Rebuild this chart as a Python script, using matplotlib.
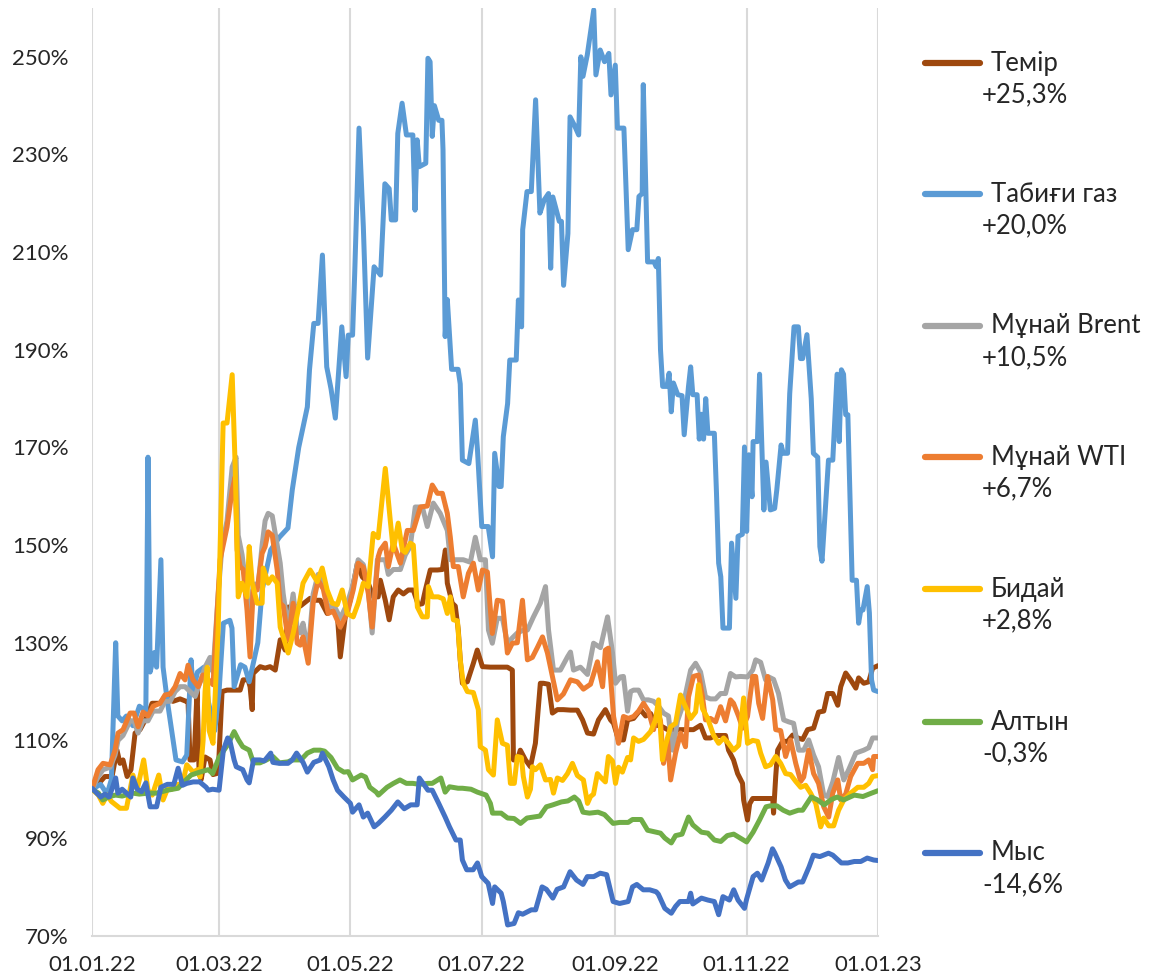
import datetime as dt
import matplotlib
matplotlib.use("Agg")
import matplotlib.pyplot as plt
import matplotlib.dates as mdates
from matplotlib.lines import Line2D
from matplotlib.ticker import FuncFormatter

plt.rcParams['font.family'] = ['Lato', 'DejaVu Sans']

# ---- data: (days since 01.01.2022, index value in %) ----
iron = [(0,100),(2.8,101),(6,102.6),(9.3,102.6),(11.6,108),(13,105.3),(14.4,106),(16.3,102.6),(18.1,104),(20,111.5),(22.3,112.2),(25.6,114.9),(27.9,117.6),(31.6,117.6),(34.9,119.6),(37.6,118),(40.9,118.5),(43.7,118),(44.6,118),(45.5,106),(47.4,106),(48.8,120.3),(49.7,104),(50.7,102),(52.5,106.6),(54.8,106),(56.2,103),(58.6,103.3),(60.4,120),(62.7,120.3),(65.5,120.3),(68.8,120.3),(70.2,122.4),(72.5,122.4),(73.4,121),(74.4,116.3),(74.8,123.7),(78.1,125.1),(80.4,124.8),(82.7,125.1),(85.1,124.4),(87.4,130.6),(89.7,128.5),(91.1,137.3),(93.4,137.3),(96.7,137.5),(101.3,139.1),(103.7,138.7),(106,138.7),(109.2,136),(111.6,136.5),(113.9,136),(115.3,127.1),(117.6,135.3),(119.9,138.7),(123.2,146.2),(125.5,143.5),(128.3,142.2),(130.6,139.4),(132.9,139.4),(133.9,142.8),(136.2,138.7),(138,134.7),(139.9,139.4),(142.2,140.8),(144.6,140),(146.9,140.8),(149.2,140.8),(151.5,137.8),(153.4,138),(154.8,140.8),(157.1,144.9),(160.4,144.9),(162.7,145),(164.1,149),(165,142.2),(167.3,138.1),(168.7,137.5),(170.1,132.6),(171,126.5),(172,121.7),(174.3,122),(177.1,125.8),(178.9,128.5),(181.3,125.1),(185,125),(189.6,125),(192.9,125),(195.2,124.4),(195.7,106),(197.5,106),(198.9,108),(201.3,106),(203.6,104.6),(205.9,109.4),(208.2,121.7),(209.6,121.7),(212,121.5),(213.8,115.6),(216.1,116.3),(218.9,116.3),(222.2,116.2),(225.4,116.2),(227.8,114.2),(230.1,111.5),(232.9,111.3),(235.2,114.2),(238.4,116.3),(240.8,114.2),(242.2,113.5),(244.5,110.1),(246.8,110.1),(248.7,114.2),(251.5,114.5),(254.7,116.3),(257.1,115),(259.4,115.5),(261.7,113.1),(264,113),(267.3,112.2),(270,112.2),(273.3,112.2),(276.6,112.2),(279.3,112.2),(282.6,113.1),(284.9,110.5),(287.2,110.5),(289.6,111),(291.9,111),(294.2,111),(295.6,108),(297.9,106),(299.8,103.2),(302.1,101.2),(302.6,97.8),(304.4,93.7),(305.4,97),(306.8,98.1),(310.5,98.1),(313.7,98.1),(316.1,98.1),(316.5,95.1),(317.5,102.6),(318.4,108),(320.7,109.8),(323,109.8),(325.4,111.1),(327.7,110.5),(330,110.2),(332.3,112.2),(335.1,112.5),(337.4,115.8),(339.8,116),(341.6,119.6),(344,119.6),(346.3,117.2),(347.7,121),(350,123.8),(352.3,122.4),(354.7,120.7),(356,122.8),(358.4,121.7),(360.7,122),(362.5,124.8),(365,125.3)]

gas = [(0,100),(4,101),(7,99),(9,102),(11,130),(12,115),(14,114),(16,115),(19,113),(22,117),(25,116),(26,168),(27,124),(29,128),(30,125),(32,147),(33,125),(35,118),(37,112),(39,106),(42,105.6),(44,107),(46,126.5),(47,120),(49,124),(52,125),(54,118),(57,112),(59,120),(61,134),(64,134.6),(65,133),(66,121),(69,125.5),(71,125),(73,122),(77,130),(79,140.8),(83,149),(87,151.6),(91,153.5),(93,161.3),(96,170),(100,178.3),(101,185.9),(103,195.4),(105,195.4),(107,209.4),(109,186.5),(111,182),(113,176),(116,194.7),(118,184.5),(119,193),(121,193),(122,205.7),(124,235.4),(126,215.2),(128,188.3),(131,207),(134,205.3),(136,224),(138,223),(139,216.6),(141,216.6),(142,234.3),(144,240.5),(146,234),(149,234),(150,218.6),(151,233),(152,227.5),(155,228.2),(156,249.7),(157,249),(158,233.7),(159,240),(161,237),(162.5,237),(163,231),(164,192.7),(165,200.3),(167,186),(170,186),(171,183),(172,167.4),(175,166.7),(178,175.6),(179,169.5),(181,153.8),(184,153.8),(186,147.6),(187,168.8),(189,162),(190,162),(191,172.2),(193,179),(194,187.9),(197,187.9),(198,200.2),(199.5,194.7),(200,214.6),(202,222.4),(204,222.4),(206,241.2),(208,218),(210,220.7),(212,222),(213,206.7),(214,221.3),(217,216.3),(218,216.3),(219,203.2),(221,213.8),(222,237.7),(224,236),(226,234),(227,250),(228,246),(230,250.4),(233,259.6),(234,246.3),(236,251.4),(238,249),(240,250.7),(241,242.2),(243,248.3),(244,235.4),(247,235.4),(249,210.5),(251,214.6),(253,214.6),(254,221.4),(255.5,222),(256,244.3),(258,208),(261,208),(262,207),(263,208.7),(264,190),(265,182.5),(267,182.5),(268,185.2),(269,177.3),(270,183.2),(272,180.8),(274,180.6),(275,172.6),(277,182.5),(278,186.5),(279,180.8),(281,180.8),(282,171.7),(283,176.8),(284,171.7),(285,180),(286,172.9),(289,172.9),(290,160.6),(291,146.3),(292,143.5),(293,133),(296,133),(297,150.4),(299,139.1),(300,151.8),(302,152.2),(303,170.1),(304,152.8),(305,168.5),(306.5,159.9),(307,171.2),(309,171.2),(310,185),(312,157.2),(313,167),(315,157.2),(317,157.5),(318,161.3),(320,170.5),(321,168.8),(323,168.8),(324,181),(326,194.7),(328,194.7),(329,188.2),(330,188.2),(332,193.1),(334,180),(335,168.8),(337,168),(338,149.7),(339,146.7),(342,167.4),(344,167.4),(346,185),(347,171.2),(348,185.9),(349,185),(350,176.7),(351,176.7),(353,142.8),(355,142.8),(356,134),(357,136.7),(358,136.7),(360,141.5),(361,136.1),(362,122.4),(363,120.3),(365,120)]

brent = [(0,100),(2.8,102.5),(5.1,104),(8.4,104.5),(10.7,107),(12.1,110),(14.4,111),(17.7,114),(19.5,114),(21.4,111.5),(23.7,114),(26,114),(28.4,116),(31.6,116),(33.9,118),(36.3,118),(38.6,120),(40.9,121),(43.2,121),(45.5,120),(47.9,119),(50.2,122),(52.5,125),(54.8,127),(56.2,124),(58.6,140),(60.4,150),(62.7,155),(65.1,166),(66.9,168),(67.9,152),(69.7,148),(72,140),(73.4,130),(74.8,142),(77.2,142),(79,150),(80.4,155),(81.8,156.5),(83.7,156),(86,150),(87.4,146.3),(88.8,140),(91.1,133),(93.4,140),(95.3,133),(96.7,132),(98,134),(100.4,128),(102.7,140),(105,144),(107.4,142),(109.7,137),(112,138),(115.3,135),(118.5,138),(121.3,142),(123.6,147),(126,146),(128.3,141),(130.1,132),(132.5,147),(136.2,147),(137.6,144),(139.9,145),(143.2,145),(145.5,148),(147.8,149.7),(150.1,157.8),(153.4,157.8),(155.7,153.8),(158.5,158.6),(161.7,156.5),(165,153),(166.4,147),(169.7,147),(172.4,147),(175.7,146.5),(178,151.6),(180.3,147),(182.7,147),(184.1,132.6),(185.9,129.9),(188.2,135),(190.6,135),(192.9,129.9),(195.2,131),(197.5,132),(199.9,132.5),(202.2,132.6),(205,135.3),(208.2,138.1),(210.6,141.5),(212,132.6),(214.3,124.4),(217.5,124.4),(220.8,127.1),(222.2,128.1),(223.6,124.4),(226.8,125),(230.1,123.5),(232.9,129.9),(236.1,129),(239.4,135.3),(241.7,128),(243.1,121.7),(245.4,123),(246.8,123.1),(248.7,116),(250.1,120),(251.5,120.3),(253.8,120.3),(256.1,118.3),(258.4,118.3),(260.8,118),(263.1,117),(265.4,115.6),(267.7,115),(269.6,108),(271.9,114),(274.7,117.6),(278,124.4),(280.3,125.8),(282.6,124),(284.9,118.9),(287.2,118.5),(289.6,118.5),(291.9,119.6),(294.2,119.6),(296.5,123.7),(298.9,123),(301.2,123.1),(304.4,123),(306.8,124.4),(308.2,126.5),(310.5,126),(312.8,122.4),(314.2,123),(316.5,122.5),(318.8,119.6),(321.2,114.2),(323.5,113.8),(325.8,113.5),(328.2,108),(330.5,108),(332.8,110.1),(335.1,107),(337.4,104.6),(339.8,98.8),(341.6,98.5),(344,101.5),(346.7,106.5),(349.1,101.9),(351.4,104),(354.7,107.4),(358.4,108),(360.7,108.5),(362.5,110.5),(365,110.5)]

wti = [(0,100),(2.8,104),(5.1,105.3),(8.4,105),(10.7,108),(12.1,111.5),(14.4,112.2),(17.7,115.6),(19.5,115.6),(21.4,112.8),(23.7,115.8),(26,115),(28.4,117),(31.6,117.6),(33.9,119.3),(36.3,119.5),(38.6,121),(40.9,123.7),(43.2,122.4),(44.6,125.4),(46.9,122.4),(49.3,121),(51.6,123.4),(53.9,122.5),(56.2,121.4),(58.6,140),(59.5,147),(62.7,153.7),(65.1,161.3),(66.5,164),(67.4,149),(68.8,145.6),(70.2,145),(72,136.6),(73.4,127.1),(74.8,140.8),(76.7,140.8),(79,148.3),(80.4,149.7),(81.8,152.7),(83.7,152),(86,144.9),(87.4,138.1),(88.8,137.5),(91.1,130.6),(93.4,138.1),(95.3,129.9),(96.7,129.5),(98,131.2),(100.4,125.8),(102.7,138.1),(105,142.8),(107.4,141),(109.7,136),(112,136.5),(115.3,133.2),(118.5,136),(121.3,140.8),(123.6,146.3),(126,145.5),(128.3,140.1),(130.1,133.2),(131.5,140.8),(132.9,147.6),(133.9,149),(136.2,150.4),(137.6,145.6),(139.9,150.4),(143.2,146.3),(146.4,153),(149.2,153),(152.5,157.8),(155.7,158),(158,162.3),(160.4,160.6),(162.7,160.6),(165,156.5),(166.4,151.6),(167.8,145.6),(170.1,145.6),(172.4,139.4),(174.8,144.2),(177.1,146.3),(179.4,140.8),(181.3,144.9),(183.6,144.5),(185.9,131.9),(188.2,138.7),(190.6,138.5),(192.9,127.9),(195.2,129.9),(197.5,130),(199.9,138.7),(202.2,126.5),(204.5,127),(206.8,129),(209.2,131.2),(211.5,127.9),(213.8,123.1),(216.1,118.3),(218.9,119.5),(222.2,122.4),(225.4,122),(228.2,120.5),(231.5,121.5),(234.7,126.1),(237.1,121),(238.4,128.5),(239.8,128.9),(242.2,114.9),(244.5,109.4),(246.8,114.9),(249.1,114.5),(251.5,114.9),(253.8,116),(256.1,117.6),(258.4,116),(260.8,112.2),(262.6,116),(264,114),(265.4,105.3),(267.3,110.1),(268.7,101.9),(271,107.4),(273.3,111.5),(275.6,108.7),(277,118.9),(279.3,123.1),(281.7,123.4),(283.5,118.9),(284.9,114.2),(287.2,114.5),(289.6,113.8),(291.9,116.9),(294.2,114),(296.5,118.3),(297.9,117.6),(300.3,114.9),(302.1,112.5),(304.4,114.9),(306.8,123.1),(308.2,123.1),(309.6,117.6),(311.4,114.5),(313.7,123.1),(316.1,118.3),(317.5,112.2),(319.8,112),(322.1,106.7),(324.4,110.1),(326.8,105.3),(329.1,101.6),(330.5,102.5),(332.8,108),(335.1,103.2),(337.4,101.2),(339.8,96.4),(342.1,94.3),(344,99.2),(346.3,101.9),(347.7,97.8),(350,99),(352.3,102.6),(355.6,105.3),(358.4,105.3),(360.7,106),(362.5,104),(363,106.7),(365,106.7)]

wheat = [(0,100),(3,98.8),(5,97.1),(7,98.8),(9,97.5),(13,96.1),(16,96.1),(19,102.9),(21,100),(24,106),(26,99.8),(28,98.8),(31,102.9),(33,97.8),(35,100),(37,100),(40,101),(42,101),(44,105),(47,103.5),(49,104),(50.2,102.5),(51.6,110),(52.5,120),(53.5,125),(54.4,112),(56.2,109.4),(58.6,133),(60.9,175),(62.7,175),(65.1,184.9),(66.5,166),(67.9,139.4),(69.7,142.2),(72,139.4),(73,149.7),(74.4,142.2),(76.7,138.1),(79,138.1),(79.5,145.3),(81.8,142.2),(83.7,143.5),(86,142.2),(87.4,133.2),(88.8,131.2),(91.1,127.9),(93.4,131.9),(95.7,136.6),(98,142.2),(101.3,144.9),(104.6,142.5),(106.9,145.3),(109.2,140.8),(111.6,138.1),(113.9,137.8),(116.2,140.8),(118.5,136),(121.3,135.3),(123.6,138.1),(126,142.2),(128.3,141.5),(130.6,152.4),(132.9,151.5),(136.2,165.7),(138.5,155.1),(139.9,149),(142.2,154.5),(144.1,149),(145.5,148.5),(147.8,150.4),(149.2,150),(151.1,137.3),(153.4,135.3),(155.7,135.3),(156.2,141.5),(158,139.4),(160.8,139.4),(163.1,139),(165,136),(166.4,139.4),(167.8,134.7),(169.7,134.5),(171,126.5),(172.4,121.7),(174.3,120),(177.1,119.8),(179.4,116.3),(180.3,108.7),(182.7,108),(184.1,104),(186.4,102.9),(188.2,114.2),(190.6,109.4),(192.9,109),(194.3,101.2),(196.1,101.2),(197.5,106.7),(199.4,106.5),(200.3,102.6),(202.2,98.4),(203.6,100),(204.5,104.6),(205.9,104),(208.2,105),(210.6,101.9),(212.9,102),(214.3,99.2),(216.1,102.3),(218.5,101.8),(220.8,103.2),(223.1,105.3),(225.4,102.8),(228.2,101.9),(230.1,97.1),(231.5,98.5),(232.9,99),(234.7,103.2),(236.1,102.5),(238.4,101.5),(239.8,106.7),(241.7,105.8),(243.1,101.2),(244.5,104.5),(246.3,103.5),(248.7,106.5),(250.1,106),(251.5,110.5),(253.8,109.8),(256.1,110.2),(259.4,111.8),(261.7,114.2),(263.1,118.3),(264.9,106),(266.3,109),(268.7,112.8),(271,113.5),(273.3,119.3),(275.6,116.9),(278,114.5),(280.3,115.8),(281.7,121.4),(283.5,116.5),(285.9,114.5),(288.6,111.1),(291,109.4),(293.3,110.5),(295.6,109.4),(297.9,108),(300.3,109),(302.6,118.7),(304.4,109.4),(306.8,110),(309.1,109.8),(310.5,107.4),(312.8,104.6),(315.1,105),(317.5,106.7),(319.8,105.3),(322.1,103.2),(324.4,103),(326.8,101.6),(329.1,100.4),(331.4,100.8),(333.7,99.2),(336.1,97.1),(338.4,92.3),(339.8,94.1),(342.1,92.5),(344.4,92.5),(346.7,95.7),(349.1,97.8),(352.3,99.2),(355.6,100.4),(358.4,100.4),(360.7,101.2),(362.5,102.6),(365,102.8)]

gold = [(0,100),(3,99.2),(5,97.8),(8,98.5),(11,98.8),(14,98.6),(19,99.2),(22,99),(26,99.2),(30,99.2),(35,99.8),(40,100.2),(42,101.2),(46,102.9),(50,103.5),(54,104),(56,103.2),(59,106.5),(63,109.1),(66,111.8),(68,110.1),(70,108.7),(73,108),(75,105.4),(78,105.4),(81,106),(84,106.7),(87,105.4),(91,105.6),(93,106),(97,106),(100,107.4),(103,108),(106,108),(108,107.8),(111,106.5),(114,104.3),(117,103.5),(119,103.6),(121,101.9),(125,102.9),(127,102.5),(129,100.4),(132,99.4),(133,98.8),(137,100.4),(140,101.2),(143,101.9),(146,101.2),(149,101.2),(152,101),(156,101.2),(158,101.2),(162,102.3),(164,99.4),(166,100.5),(170,100.2),(172,100.2),(176,100),(179,99.4),(183,98.8),(185,97.1),(186,95.1),(190,95.1),(193,94.1),(196,94),(199,93),(202,94.1),(205,94.3),(208,94.5),(211,96.4),(214,96.8),(218,97.4),(221,97.6),(224,98.4),(226,97.6),(228,95.3),(231,95.1),(235,95.3),(238,94.8),(242,93),(245,93.2),(249,93.2),(251,93.8),(255,93.8),(258,91.6),(261,91.3),(264,91),(266,90),(269,89),(271,90.5),(274,90.8),(277,94.3),(279,92.7),(283,91.2),(286,91),(289,89.6),(292,89.3),(295,90.5),(298,90.8),(301,90),(304,89.2),(307,91.2),(310,93.7),(313,96.4),(315,96.6),(318,96.6),(321,95.7),(324,95.1),(328,95.7),(330,95.7),(334,98.4),(337,97.8),(340,96.8),(343,97.8),(346,98.4),(349,97.8),(354,98.8),(358,98.5),(362,99.2),(365,99.7)]

copper = [(0,100.2),(4,98.4),(6,99),(8,98.4),(11,102.3),(12,99.2),(14,100),(18,98.4),(19,102.3),(21,100),(23,99.5),(25,101.3),(27,96.4),(30,96.4),(32,100.4),(35,101),(38,101),(40,104.3),(42,100.8),(44,101.2),(47,101.5),(50,101.5),(53,100.4),(54,99.8),(56,100),(59,99.8),(61,108),(63,110.5),(64,110),(66,106),(67,104.6),(70,104),(72,101.9),(73,101.3),(75,106),(78,106),(80,105.8),(83,107.4),(84,105.5),(87,105.3),(91,105.3),(93,106),(95,107.4),(98,105.5),(100,103.5),(103,105.5),(106,106),(107,107.4),(110,104.6),(112,101.9),(114,99.8),(117,98.4),(120,97.1),(121,95.3),(124,96.8),(126,94.3),(128,95.1),(131,92.3),(133,93),(136,94.3),(139,95.7),(142,97.4),(145,96),(148,96.8),(151,96.8),(152,102.3),(156,99.8),(158,99.8),(161,97.1),(164,94.3),(166,92.3),(169,89.6),(171,89.6),(172,85.5),(174,83.5),(177,83.5),(179,84.9),(181,82.1),(184,80.7),(186,76.6),(187,80),(190,78.7),(191,77),(193,72.2),(196,72.5),(198,74.7),(200,74.4),(204,75.3),(206,75.3),(209,80),(211,79.5),(214,77.7),(216,79.5),(219,80),(222,83.1),(225,81.4),(228,80.5),(230,82.1),(233,82.1),(236,82.8),(239,82.5),(242,77),(245,76.6),(249,77),(251,80),(253,80.5),(256,79.4),(259,79.4),(262,79),(263,78.5),(266,75.6),(269,74.6),(271,76),(273,77),(277,77),(278,78.7),(279,76.5),(283,77.7),(286,77.3),(289,77),(291,74.3),(293,78),(296,77.3),(298,79.4),(300,77.3),(303,75.6),(304,77.5),(307,82.1),(309,82.8),(311,81.4),(314,84.9),(316,87.8),(317,87),(320,84.1),(322,81.4),(324,80),(328,81),(330,81),(333,84.1),(335,86.5),(338,86.2),(342,86.9),(344,86.5),(348,84.9),(351,84.9),(354,85.2),(357,85.2),(360,85.9),(363,85.5),(365,85.4)]

names = ["Темір", "Табиғи газ", "Мұнай Brent", "Мұнай WTI", "Бидай", "Алтын", "Мыс"]
changes = ["+25,3%", "+20,0%", "+10,5%", "+6,7%", "+2,8%", "-0,3%", "-14,6%"]
colors = ["#9E480E", "#5B9BD5", "#A5A5A5", "#ED7D31", "#FFC000", "#70AD47", "#4472C4"]
series = [iron, gas, brent, wti, wheat, gold, copper]

y_ticks = [70, 90, 110, 130, 150, 170, 190, 210, 230, 250]
x_ticks = [dt.date(2022, 1, 1), dt.date(2022, 3, 1), dt.date(2022, 5, 1), dt.date(2022, 7, 1),
           dt.date(2022, 9, 1), dt.date(2022, 11, 1), dt.date(2023, 1, 1)]

# ---- figure ----
W, H = 1150, 977
fig = plt.figure(figsize=(W / 100, H / 100), dpi=100)
ax = fig.add_axes([92 / W, 1 - 935.7 / H, (878 - 92) / W, (935.7 - 8) / H])

base = mdates.date2num(dt.datetime(2022, 1, 1))
for s, c in zip(series, colors):
    xs = [base + d for d, v in s]
    ys = [v for d, v in s]
    ax.plot(xs, ys, color=c, lw=3.6, solid_joinstyle='round', solid_capstyle='round')

ax.set_xlim(mdates.date2num(x_ticks[0]), mdates.date2num(x_ticks[-1]))
ax.set_ylim(70, 260)
ax.set_xticks([mdates.date2num(d) for d in x_ticks])
ax.xaxis.set_major_formatter(mdates.DateFormatter('%d.%m.%y'))
ax.set_yticks(y_ticks)
ax.yaxis.set_major_formatter(FuncFormatter(lambda v, p: f"{v:.0f}%"))
ax.tick_params(axis='both', length=0, labelsize=16, labelcolor='#262626')
ax.tick_params(axis='y', pad=17)
ax.tick_params(axis='x', pad=14)
ax.grid(axis='x', color='#D9D9D9', lw=1.5)
ax.set_axisbelow(True)
for sp in ['top', 'right', 'left']:
    ax.spines[sp].set_visible(False)
ax.spines['bottom'].set_color('#D9D9D9')
ax.spines['bottom'].set_linewidth(1.5)

# ---- legend ----
leg_y = [63, 194, 326, 457, 589, 722, 853]
for yy, nm, ch, c in zip(leg_y, names, changes, colors):
    fig.add_artist(Line2D([925 / W, 980 / W], [1 - yy / H, 1 - yy / H], color=c, lw=4.5,
                          solid_capstyle='round', transform=fig.transFigure))
    fig.text(991 / W, 1 - yy / H, nm, fontsize=18.5, color='#262626', va='center', ha='left')
    fig.text(982 / W, 1 - (yy + 32) / H, ch, fontsize=18.5, color='#262626', va='center', ha='left')

fig.savefig("out.png", dpi=100)
